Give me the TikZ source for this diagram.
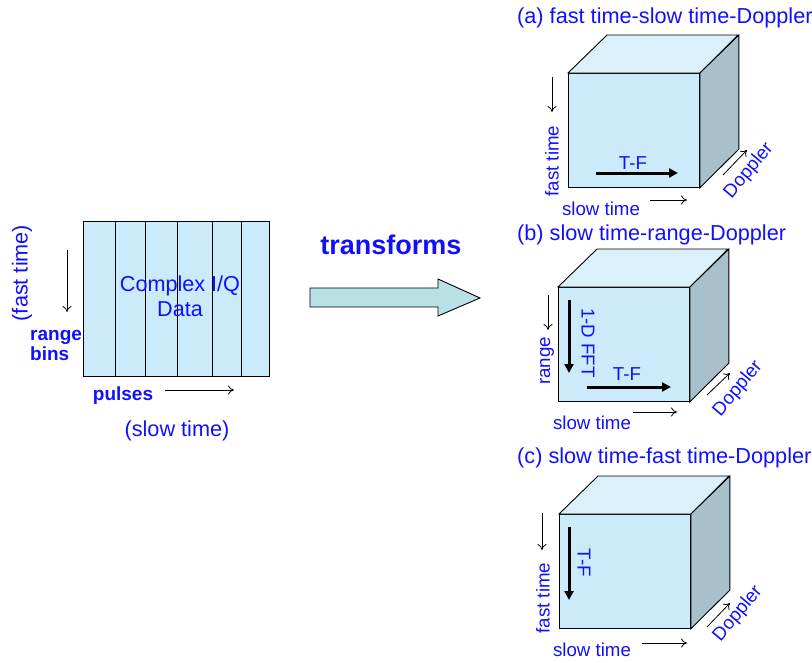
\documentclass[tikz,border=0pt]{standalone}
\usepackage{fontspec}
\setmainfont{Liberation Sans}
\usetikzlibrary{
	arrows.meta,
	positioning,
	calc
  }
\definecolor{facefront}{HTML}{CCEBFA}
\definecolor{facetop}{HTML}{DAF1FC}
\definecolor{faceside}{HTML}{A8BFCC}
\definecolor{arrowfill}{HTML}{B9E0E5}
\definecolor{lblue}{HTML}{1010FF}
\tikzstyle{lbl}=[text=lblue,font=\fontsize{18.7}{20}\selectfont,inner sep=0pt]
\tikzstyle{ttl}=[text=lblue,font=\fontsize{21.7}{25}\selectfont,inner sep=0pt]
\tikzstyle{bld}=[text=lblue,font=\fontsize{19}{20}\selectfont\bfseries,inner sep=0pt]
\tikzstyle{axis}=[-{To[length=6pt,width=9pt]},line width=0.8pt]
\tikzstyle{tf}=[-{Triangle[length=9pt,width=9pt]},line width=3pt]
\tikzstyle{face}=[draw,line width=0.9pt,inner sep=0pt]

\begin{document}
\begin{tikzpicture}[x=1pt,y=-1pt]
	\useasboundingbox (0,0) rectangle (812,662);
%
	\node[face,fill=facefront,anchor=north west,minimum width=186pt,minimum height=155pt] at (83,221) (iq) {};
	\foreach \d in {32,62,94,129,158}
		\draw[line width=0.8pt] ($(iq.north west)+(\d,0)$) -- ($(iq.south west)+(\d,0)$);
	\node[ttl,align=center,font=\fontsize{21.6}{25}\selectfont] at (180,296) (iqtext) {Complex I/Q\\Data};
	\node[ttl,rotate=90] at (22,273) (fast) {(fast time)};
	\node[bld,align=left,anchor=west,font=\fontsize{19}{20}\selectfont\bfseries] at (30,345) (bins) {range\\bins};
	\node[bld] at (123,396) (pulses) {pulses};
	\node[ttl] at (177,431) (slow) {(slow time)};
	\coordinate (fast1) at (67,250); \coordinate (fast2) at (67,312);
	\coordinate (slow1) at (165,390); \coordinate (slow2) at (234,390);
	\draw[axis] (fast1) -- (fast2);
	\draw[axis] (slow1) -- (slow2);
%
	\node[text=lblue,font=\fontsize{27}{30}\selectfont\bfseries,inner sep=0pt] at (391,245) (trans) {transforms};
	\draw[line width=0.9pt,fill=arrowfill]
		(310,288) -- (438,288) -- (438,279) -- (480,298) -- (438,316) -- (438,307) -- (310,307) -- cycle;
%
	\foreach \n/\x/\y in {a/568/73,b/558/287,c/559/514} {
		\node[face,fill=facefront,anchor=north west,minimum width=131pt,minimum height=114pt] at (\x,\y) (F\n) {};
		\draw[line width=0.9pt,fill=facetop]
			(F\n.north west) -- ++(39,-38) -- ++(131,0) -- (F\n.north east) -- cycle;
		\draw[line width=0.9pt,fill=faceside]
			(F\n.north east) -- ++(39,-38) -- ++(0,114) -- (F\n.south east) -- cycle;
	}
%
	\node[ttl,anchor=west] at (517,18) (Ta) {(a) fast time-slow time-Doppler};
	\node[ttl,anchor=west] at (517,235) (Tb) {(b) slow time-range-Doppler};
	\node[ttl,anchor=west] at (517,458) (Tc) {(c) slow time-fast time-Doppler};
%
	% cube (a)
	\node[lbl,rotate=90] at (552,161) (a-ft) {fast time};
	\node[lbl] at (601,209) (a-st) {slow time};
	\node[lbl,rotate=50] at (749,171) (a-dp) {Doppler};
	\node[lbl] at (633,163) (a-tf) {T-F};
	\coordinate (a1) at (552,77); \coordinate (a2) at (552,112);
	\coordinate (a3) at (650,200); \coordinate (a4) at (687,200);
	\coordinate (a5) at (723,175); \coordinate (a6) at (747,150);
	\coordinate (a7) at (596,173); \coordinate (a8) at (678,173);
	\draw[axis] (a1) -- (a2);
	\draw[axis] (a3) -- (a4);
	\draw[axis] (a5) -- (a6);
	\draw[tf] (a7) -- (a8);
%
	% cube (b)
	\node[lbl,rotate=90] at (547,361) (b-rg) {range};
	\node[lbl] at (592,423) (b-st) {slow time};
	\node[lbl,rotate=50] at (738,389) (b-dp) {Doppler};
	\node[lbl] at (627,374) (b-tf) {T-F};
	\node[lbl,rotate=-90] at (588,343) (b-fft) {1-D FFT};
	\coordinate (b1) at (548,295); \coordinate (b2) at (548,330);
	\coordinate (b3) at (633,412); \coordinate (b4) at (677,412);
	\coordinate (b5) at (707,395); \coordinate (b6) at (730,373);
	\coordinate (b7) at (587,387); \coordinate (b8) at (671,387);
	\coordinate (b9) at (569,300); \coordinate (b10) at (569,373);
	\draw[axis] (b1) -- (b2);
	\draw[axis] (b3) -- (b4);
	\draw[axis] (b5) -- (b6);
	\draw[tf] (b7) -- (b8);
	\draw[tf] (b9) -- (b10);
%
	% cube (c)
	\node[lbl,rotate=90] at (543,598) (c-ft) {fast time};
	\node[lbl] at (592,650) (c-st) {slow time};
	\node[lbl,rotate=50] at (738,614) (c-dp) {Doppler};
	\node[lbl,rotate=-90] at (584,563) (c-tf) {T-F};
	\coordinate (c1) at (542,513); \coordinate (c2) at (542,550);
	\coordinate (c3) at (642,643); \coordinate (c4) at (687,643);
	\coordinate (c5) at (707,627); \coordinate (c6) at (730,603);
	\coordinate (c7) at (569,527); \coordinate (c8) at (569,600);
	\draw[axis] (c1) -- (c2);
	\draw[axis] (c3) -- (c4);
	\draw[axis] (c5) -- (c6);
	\draw[tf] (c7) -- (c8);
\end{tikzpicture}
\end{document}
